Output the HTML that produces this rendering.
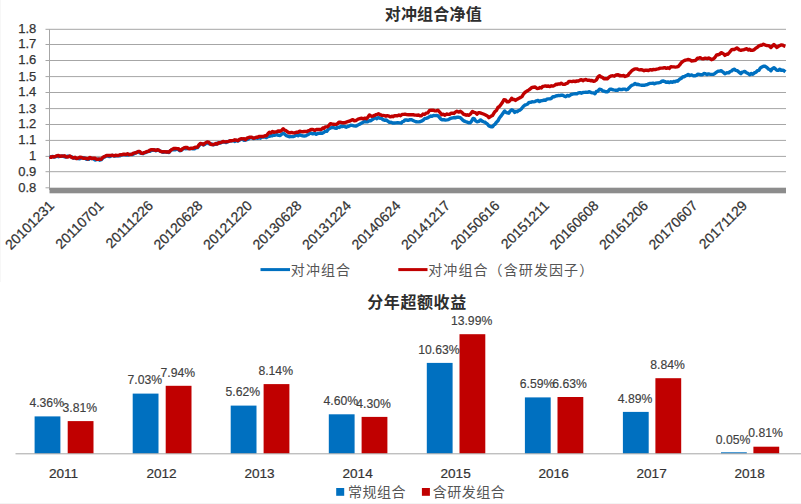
<!DOCTYPE html>
<html lang="zh"><head><meta charset="utf-8"><title>对冲组合净值</title>
<style>
html,body{margin:0;padding:0;background:#fff;}
body{width:801px;height:504px;overflow:hidden;}
svg{display:block;font-family:"Liberation Sans","Noto Sans CJK SC",sans-serif;}
.num{font-size:13px;fill:#333;stroke:#333;stroke-width:0.25px;}
.xl{font-size:14px;fill:#333;stroke:#333;stroke-width:0.25px;}
.bl{font-size:12.2px;fill:#404040;stroke:#404040;stroke-width:0.15px;}
.cat{font-size:13.6px;fill:#333;stroke:#333;stroke-width:0.2px;}
.cjk{font-family:"Liberation Sans","Noto Sans CJK SC",sans-serif;font-size:14px;letter-spacing:1.1px;fill:#555;}
.cjk2{font-family:"Liberation Sans","Noto Sans CJK SC",sans-serif;font-size:14px;letter-spacing:0.5px;fill:#555;}
.ttl{font-family:"Liberation Sans","Noto Sans CJK SC",sans-serif;font-size:16px;font-weight:bold;fill:#2e2e2e;}
</style></head><body>
<svg width="801" height="504" viewBox="0 0 801 504">
<rect width="801" height="504" fill="#fff"/>
<rect x="0" y="0" width="1" height="282" fill="#f7f7f7"/>
<rect x="0" y="503" width="801" height="1" fill="#f4f4f4"/>
<text class="ttl" x="433.3" y="19.6" text-anchor="middle" style="letter-spacing:0.2px">对冲组合净值</text>
<g stroke="#a6a6a6" stroke-width="1" fill="none">
<line x1="45.5" y1="29.30" x2="786.0" y2="29.30"/>
<line x1="45.5" y1="44.50" x2="786.0" y2="44.50"/>
<line x1="45.5" y1="60.50" x2="786.0" y2="60.50"/>
<line x1="45.5" y1="76.60" x2="786.0" y2="76.60"/>
<line x1="45.5" y1="92.50" x2="786.0" y2="92.50"/>
<line x1="45.5" y1="108.60" x2="786.0" y2="108.60"/>
<line x1="45.5" y1="124.50" x2="786.0" y2="124.50"/>
<line x1="45.5" y1="140.40" x2="786.0" y2="140.40"/>
<line x1="45.5" y1="156.40" x2="786.0" y2="156.40"/>
<line x1="45.5" y1="171.70" x2="786.0" y2="171.70"/>
<line x1="45.5" y1="187.8" x2="49.5" y2="187.8"/>
<line x1="49.5" y1="29.30" x2="49.5" y2="190"/>
</g>
<rect x="49.5" y="187.7" width="736.5" height="5.6" fill="#8c8c8c"/>
<g class="num" text-anchor="end">
<text x="36.3" y="33.20">1.8</text>
<text x="36.3" y="48.40">1.7</text>
<text x="36.3" y="64.40">1.6</text>
<text x="36.3" y="80.50">1.5</text>
<text x="36.3" y="96.40">1.4</text>
<text x="36.3" y="112.50">1.3</text>
<text x="36.3" y="128.40">1.2</text>
<text x="36.3" y="144.30">1.1</text>
<text x="36.3" y="160.30">1</text>
<text x="36.3" y="175.60">0.9</text>
<text x="36.3" y="191.60">0.8</text>
</g>
<polyline fill="none" stroke="#0070c0" stroke-width="3.4" stroke-linejoin="round" stroke-linecap="butt" points="49.5,157.1 51.0,156.8 52.5,156.4 54.0,157.1 55.5,156.8 57.0,156.1 58.5,156.7 60.0,156.3 61.5,156.4 63.0,156.0 64.5,156.9 66.0,157.1 67.8,156.1 69.7,156.4 71.0,156.9 72.2,157.0 73.5,158.2 75.0,157.7 76.5,158.4 78.0,158.6 79.8,158.7 81.7,157.9 83.2,157.7 84.7,158.2 86.2,159.2 87.7,159.4 88.8,159.3 90.0,157.9 91.7,158.5 93.3,158.6 95.0,160.0 96.7,159.7 98.2,159.0 99.7,160.2 101.2,159.7 102.5,158.4 103.7,157.2 105.0,156.8 106.5,156.0 108.0,156.1 109.5,156.6 111.0,155.9 112.5,155.4 114.0,156.0 115.4,156.1 116.9,155.7 118.4,155.9 119.9,155.8 121.4,154.8 123.0,154.6 124.5,154.7 126.0,154.9 127.5,155.1 129.0,154.6 130.5,154.4 132.0,154.6 133.5,154.1 135.0,153.2 136.5,152.3 138.0,151.9 139.7,152.9 141.3,153.4 143.0,153.7 144.3,152.7 145.7,152.6 147.0,151.9 148.5,151.3 149.9,151.3 151.4,150.1 152.9,150.4 154.4,149.8 155.9,150.8 157.4,150.1 158.7,150.1 160.0,151.3 161.5,151.4 163.0,152.2 164.5,152.1 166.0,151.7 167.5,152.4 169.0,152.5 170.5,150.5 172.0,149.8 173.7,149.8 175.5,149.7 177.2,149.1 178.5,149.7 179.7,150.7 181.0,150.6 182.5,149.2 184.0,148.3 185.5,148.7 187.0,148.6 188.5,148.6 190.0,148.5 191.5,148.6 193.0,148.9 194.5,148.8 196.0,147.8 197.5,147.6 198.9,145.9 200.4,143.8 201.9,143.7 203.4,145.0 204.7,144.4 205.9,143.4 207.2,142.3 208.7,143.7 210.2,144.1 211.7,143.9 213.2,144.9 214.6,144.4 215.9,144.4 217.3,143.1 218.6,143.4 220.0,143.1 221.5,142.4 223.0,142.1 224.4,141.8 225.9,142.6 227.4,142.0 228.9,141.1 230.4,141.0 231.9,140.9 233.4,140.8 234.9,141.5 236.4,140.4 237.9,141.1 239.8,140.0 241.6,139.1 242.9,139.5 244.1,140.3 245.4,140.1 246.9,139.7 248.4,139.0 249.9,137.6 251.8,137.8 253.6,138.6 254.9,138.2 256.2,137.8 257.6,138.4 258.9,137.5 260.4,138.2 261.9,137.0 263.4,137.0 264.9,137.1 266.4,137.5 267.9,136.5 269.4,136.3 270.9,135.7 272.3,135.7 273.6,135.0 275.0,135.2 276.7,134.6 278.5,135.3 280.2,135.5 281.7,134.2 283.2,133.2 284.7,134.2 286.2,135.6 287.7,136.1 289.2,136.7 290.5,136.6 291.9,136.6 293.2,136.6 294.5,136.2 296.2,135.0 298.0,135.8 299.7,134.7 301.2,135.4 302.7,135.9 304.2,136.0 305.7,135.9 307.0,135.1 308.4,134.4 309.7,133.3 311.0,133.2 312.7,133.8 314.5,133.3 316.2,134.4 317.7,133.5 319.2,133.4 320.7,133.0 322.2,133.2 323.7,132.4 325.2,131.3 326.7,131.4 328.2,129.4 329.7,128.4 331.2,127.7 332.9,127.3 334.7,128.0 336.4,128.4 337.9,127.0 339.4,127.5 340.9,126.2 342.2,126.6 343.5,126.2 344.9,126.6 346.2,127.2 347.7,126.5 349.2,126.1 350.7,125.3 352.2,125.4 353.9,125.9 355.7,126.1 357.4,125.4 359.1,124.4 360.9,123.4 362.6,122.5 363.9,121.7 365.2,121.5 366.6,121.7 367.9,121.7 369.4,120.6 370.9,120.7 372.4,119.5 373.9,118.5 375.4,117.8 376.9,118.7 378.4,117.5 379.9,118.2 381.4,118.3 382.9,119.6 384.4,120.2 386.1,120.0 387.8,121.2 389.4,122.4 391.1,122.2 392.7,123.0 394.4,123.0 396.0,122.9 397.7,122.6 399.5,122.9 401.2,123.2 402.5,121.6 403.7,121.4 405.0,119.9 406.5,120.0 408.0,120.4 409.5,119.8 411.0,119.7 412.5,120.2 414.2,121.0 415.9,121.7 417.5,121.9 419.2,121.7 420.6,121.5 421.9,120.9 423.3,120.1 424.6,118.7 426.0,118.4 427.5,117.9 429.0,117.1 430.5,116.0 432.0,116.2 433.5,115.4 434.9,115.6 436.4,115.5 437.9,115.7 439.4,117.4 440.9,119.2 442.4,119.9 443.9,119.6 445.4,120.1 446.9,119.9 448.4,119.6 449.9,118.7 451.4,118.2 452.9,117.8 454.4,117.5 455.9,117.7 457.4,117.2 458.9,117.3 460.4,117.7 461.7,118.9 463.0,120.3 464.4,121.2 465.7,121.7 467.2,122.1 468.6,122.7 470.1,122.9 471.6,121.1 473.1,118.4 474.4,118.9 475.6,120.8 476.9,121.7 478.8,121.4 480.6,119.9 482.1,121.1 483.6,121.8 485.1,122.2 486.4,123.4 487.6,124.2 488.9,125.9 490.8,126.7 492.6,126.7 493.9,124.9 495.1,124.2 496.4,122.2 497.9,120.9 499.4,118.0 500.9,116.2 502.8,113.5 504.6,111.0 506.0,112.4 507.3,112.8 508.7,113.2 510.2,111.0 511.7,109.7 513.2,110.5 514.7,112.4 516.0,111.3 517.2,111.8 518.5,110.6 520.0,110.1 521.5,108.7 523.4,106.3 525.2,104.9 526.5,104.6 527.7,104.0 529.0,102.4 530.5,102.4 532.0,101.8 533.5,101.9 535.0,101.6 536.5,100.8 538.0,100.4 539.5,101.6 541.0,100.7 542.5,100.6 544.0,100.0 545.4,100.3 546.9,99.2 548.4,98.9 549.9,98.9 551.4,98.3 552.9,96.8 554.4,96.7 555.8,96.0 557.1,95.8 558.5,95.4 559.8,95.6 561.2,95.2 562.7,95.3 564.2,96.1 565.7,96.7 567.4,95.5 569.2,96.0 570.9,94.7 572.4,94.1 573.9,93.9 575.4,93.7 576.9,93.9 578.4,92.9 579.9,92.6 581.4,93.2 582.9,92.5 584.4,92.4 585.9,92.2 587.6,92.4 589.4,91.7 591.1,92.6 592.4,92.9 593.6,92.9 594.9,93.7 596.4,91.5 597.9,91.1 599.4,89.2 601.2,89.7 603.1,91.1 604.6,91.3 606.1,91.8 607.6,91.7 608.8,90.5 609.9,89.2 611.6,89.3 613.4,89.9 615.1,90.2 616.4,90.1 617.8,90.3 619.1,89.1 620.4,89.5 621.8,89.6 623.2,89.1 624.7,89.1 626.1,89.8 627.5,89.4 629.4,87.6 631.2,85.7 632.5,85.0 633.7,84.6 635.0,83.4 636.5,84.5 638.0,84.3 639.5,84.9 641.2,85.2 643.0,85.1 644.7,85.2 646.0,84.8 647.4,84.6 648.7,83.8 650.0,83.4 651.5,83.4 653.0,83.2 654.5,83.8 656.0,83.1 657.5,82.9 659.0,82.7 660.4,82.3 661.9,81.2 663.4,81.0 664.9,81.6 666.4,82.4 667.9,81.9 669.4,82.6 670.9,81.7 672.4,82.4 673.7,81.5 675.0,81.7 676.4,80.9 677.7,81.2 679.5,79.3 681.4,78.2 682.9,76.7 684.4,76.7 685.9,75.6 687.0,75.4 688.2,74.4 689.9,75.5 691.7,74.9 693.4,75.9 694.9,75.8 696.4,75.4 697.9,74.2 699.4,74.4 700.9,74.8 702.4,74.8 703.9,73.5 705.4,73.7 706.9,74.6 708.4,73.9 709.9,74.2 711.4,74.4 713.1,74.4 714.9,73.4 716.6,72.2 718.1,71.2 719.6,71.1 721.1,70.7 722.4,71.7 723.6,72.5 724.9,73.7 726.8,72.8 728.6,72.9 730.1,71.5 731.6,71.0 733.1,69.6 734.5,69.2 735.8,70.4 737.2,70.7 739.0,72.1 740.9,73.7 742.2,72.2 743.4,71.9 744.7,71.4 746.4,72.7 748.2,73.6 749.9,74.7 751.4,73.4 752.9,74.2 754.4,72.9 755.9,72.2 757.4,70.7 758.9,70.3 760.4,67.9 761.9,67.0 763.4,66.2 765.2,66.3 767.1,67.7 768.4,69.1 769.6,69.4 770.9,70.7 772.4,68.6 773.9,67.7 775.4,68.9 776.9,70.4 778.4,70.4 779.9,69.2 781.3,70.4 782.6,70.2 784.0,70.7 785.4,71.9"/>
<polyline fill="none" stroke="#c00000" stroke-width="3.4" stroke-linejoin="round" stroke-linecap="butt" points="49.5,156.7 51.0,157.3 52.5,156.7 54.0,156.8 55.5,156.4 57.0,155.7 58.5,155.5 60.0,156.4 61.5,156.0 63.0,156.1 64.5,155.8 66.0,156.7 67.8,157.0 69.7,156.0 71.0,156.8 72.2,157.7 73.5,157.8 75.0,157.3 76.5,158.6 78.0,158.2 79.8,157.2 81.7,157.5 83.2,158.4 84.7,158.2 86.2,158.4 87.7,159.0 88.8,158.3 90.0,157.5 91.7,158.6 93.3,158.1 95.0,158.3 96.7,159.3 98.2,159.3 99.7,158.9 101.2,159.3 102.5,157.7 103.7,156.9 105.0,156.4 106.5,155.5 108.0,155.5 109.5,155.4 111.0,155.5 112.5,155.2 114.0,155.9 115.4,155.2 116.9,155.5 118.4,155.5 119.9,154.8 121.4,154.9 123.0,154.2 124.5,154.3 126.0,154.5 127.5,153.7 129.0,154.7 130.5,154.4 132.0,154.2 133.5,153.1 135.0,152.8 136.5,152.8 138.0,151.5 139.7,151.5 141.3,153.2 143.0,153.3 144.3,152.6 145.7,152.1 147.0,151.5 148.5,151.4 149.9,150.1 151.4,149.7 152.9,149.7 154.4,150.0 155.9,150.4 157.4,149.7 158.7,150.1 160.0,150.9 161.5,151.7 163.0,151.7 164.5,151.7 166.0,152.0 167.5,151.8 169.0,152.1 170.5,150.5 172.0,149.4 173.7,148.5 175.5,148.4 177.2,148.7 178.5,148.6 179.7,150.1 181.0,150.2 182.5,148.7 184.0,147.9 185.5,147.5 187.0,147.4 188.5,148.6 190.0,148.7 191.5,148.2 193.0,148.2 194.5,147.4 196.0,147.1 197.5,147.2 198.9,145.0 200.4,143.4 201.9,143.9 203.4,144.6 204.7,143.2 205.9,142.7 207.2,141.9 208.7,142.2 210.2,143.9 211.7,144.6 213.2,144.5 214.6,144.2 215.9,143.4 217.3,144.1 218.6,142.8 220.0,142.7 221.5,142.3 223.0,141.5 224.4,141.9 225.9,141.8 227.4,141.6 228.9,141.3 230.4,140.6 231.9,140.7 233.4,140.4 234.9,139.8 236.4,140.2 237.9,140.7 239.8,139.1 241.6,138.7 242.9,138.9 244.1,138.7 245.4,139.7 246.9,138.2 248.4,137.7 249.9,137.2 251.8,137.3 253.6,138.2 254.9,137.9 256.2,137.3 257.6,137.2 258.9,136.4 260.4,136.5 261.9,136.4 263.4,136.5 264.9,135.7 266.4,135.7 267.9,133.7 269.4,132.2 270.9,132.9 272.4,131.5 273.9,132.3 275.4,131.9 276.8,131.9 278.1,130.9 279.5,131.4 281.4,130.6 283.2,128.7 284.6,130.1 285.9,130.6 287.3,131.6 288.6,132.5 290.0,132.9 291.5,132.4 293.0,132.9 294.5,132.9 296.2,132.3 298.0,132.2 299.7,131.1 301.2,131.6 302.7,131.7 304.2,131.5 305.7,131.4 307.0,131.5 308.4,130.7 309.7,130.3 311.0,129.5 312.9,129.5 314.7,130.4 316.4,129.5 318.0,129.4 319.7,129.5 321.4,129.5 322.7,128.0 323.9,128.3 325.2,126.9 327.4,126.9 328.9,125.4 330.4,123.7 331.9,124.0 333.4,124.2 334.9,124.4 336.4,124.3 337.7,123.6 338.9,122.2 340.2,122.2 341.9,122.7 343.7,122.8 345.4,122.5 346.9,121.9 348.4,121.4 349.9,121.0 351.4,120.2 352.9,119.6 354.4,120.8 355.9,120.5 357.4,119.6 358.9,118.8 360.4,118.5 361.9,118.3 363.4,118.8 364.9,118.1 366.4,118.7 367.9,117.2 369.4,115.0 371.2,116.2 373.1,116.0 374.4,115.4 375.8,114.7 377.1,114.3 378.4,113.8 379.9,114.6 381.4,115.2 382.9,115.4 384.4,115.7 385.9,116.2 387.4,115.7 388.9,116.1 390.4,116.9 391.8,116.2 393.2,116.7 394.6,115.7 396.0,115.7 397.5,115.8 399.0,115.0 400.5,115.7 402.0,114.5 403.5,114.4 405.0,114.2 406.7,114.6 408.4,114.7 410.0,114.8 411.7,114.7 413.1,114.6 414.5,115.1 415.9,115.1 417.2,115.3 418.6,115.0 420.0,115.7 421.5,115.7 423.0,114.0 424.5,114.5 426.0,113.2 427.7,112.9 429.5,110.5 431.2,110.2 432.9,110.1 434.5,110.7 436.2,110.9 437.9,110.2 439.2,111.6 440.4,112.9 441.7,114.7 443.3,114.2 445.0,115.2 446.6,114.0 448.3,114.4 449.9,114.2 451.2,113.2 452.5,113.2 453.9,113.4 455.2,112.2 456.9,111.3 458.7,112.1 460.4,111.3 461.9,112.4 463.4,114.1 464.9,114.7 466.2,115.2 467.4,114.8 468.7,115.4 470.5,114.0 472.4,111.4 473.9,112.3 475.4,112.6 476.9,114.2 478.4,112.7 479.9,112.7 481.6,113.4 483.4,114.0 485.1,114.7 486.4,115.4 487.6,116.2 488.9,117.7 490.8,116.3 492.6,115.4 493.8,113.3 494.9,111.7 496.4,110.5 497.9,107.5 499.4,106.5 500.9,104.6 502.4,102.5 503.9,99.7 505.5,99.9 507.1,101.8 508.7,101.9 510.2,100.4 511.7,98.2 513.0,99.5 514.2,99.4 515.5,100.4 517.2,99.2 519.0,98.2 520.7,97.4 522.0,96.6 523.2,94.5 524.5,92.9 526.0,91.7 527.5,90.8 529.0,89.9 530.5,88.7 532.0,87.4 533.5,87.2 535.2,87.0 537.0,88.5 538.7,88.4 540.0,87.5 541.4,88.0 542.7,86.4 544.0,86.2 545.5,85.9 547.0,86.4 548.4,86.0 549.9,86.6 551.4,85.8 552.9,86.1 554.4,85.5 555.9,84.3 557.2,84.5 558.5,83.9 559.9,84.1 561.2,83.2 563.0,84.4 564.9,84.3 566.2,83.6 567.5,83.2 568.9,81.4 570.2,81.4 571.9,81.6 573.5,81.1 575.2,81.5 576.9,81.0 578.4,81.0 579.9,80.2 581.4,79.6 582.9,80.7 584.4,79.8 585.9,79.5 587.4,80.2 588.9,80.2 590.4,80.7 591.9,80.5 593.4,81.3 594.9,81.0 596.4,79.9 597.9,77.1 599.4,75.7 600.9,76.9 602.4,77.4 603.9,78.7 605.8,78.8 607.6,78.7 608.8,77.4 609.9,76.5 611.4,75.9 612.9,75.8 614.4,76.2 616.2,75.0 618.1,74.7 619.4,75.7 620.7,75.5 622.0,75.9 623.6,75.5 625.1,76.5 626.7,75.9 628.0,75.4 629.2,73.4 630.5,72.2 632.4,70.2 634.2,69.2 635.5,68.9 636.9,68.9 638.2,69.5 639.5,69.9 641.0,69.6 642.5,70.0 644.0,70.7 645.5,70.1 647.0,70.3 648.5,70.5 650.0,69.6 651.7,70.0 653.5,69.5 655.2,69.6 656.7,69.1 658.2,68.9 659.7,68.3 661.2,68.1 662.9,68.0 664.7,67.6 666.4,68.4 667.9,67.7 669.4,68.4 670.9,66.7 672.4,66.9 673.9,66.9 675.4,67.1 676.9,66.9 678.4,66.3 679.9,64.7 681.4,62.6 682.9,61.4 684.2,60.6 685.5,60.1 686.9,59.8 688.2,59.5 689.9,59.8 691.7,61.0 693.4,60.7 694.7,60.6 696.0,60.1 697.4,58.2 698.7,58.3 700.2,57.6 701.7,58.6 703.1,58.9 704.6,58.3 706.1,58.3 707.5,58.6 708.8,57.9 710.2,58.7 711.5,59.7 712.9,59.2 714.8,57.6 716.6,55.0 718.1,54.8 719.6,54.2 721.1,52.7 722.4,53.2 723.6,53.9 724.9,55.4 726.4,54.3 727.9,54.2 729.8,52.0 731.6,49.7 732.9,49.5 734.2,49.5 735.6,48.7 736.9,47.9 738.2,49.0 739.6,50.0 740.9,50.4 742.4,49.9 743.9,49.7 745.4,49.2 746.8,48.7 748.2,49.9 749.5,49.2 750.9,50.4 752.3,50.2 753.7,50.1 755.5,48.4 757.4,47.2 758.9,45.9 760.4,45.3 761.9,45.2 763.4,44.2 765.2,45.1 767.1,45.5 768.4,45.6 769.6,46.2 770.9,47.5 772.4,46.0 773.9,44.5 775.4,46.1 776.9,47.5 778.4,46.3 779.9,45.5 781.4,44.9 782.9,45.2 784.1,46.0 785.4,46.4"/>
<g class="xl" text-anchor="end">
<text transform="translate(55.0,206.5) rotate(-45)" x="0" y="0">20101231</text>
<text transform="translate(104.5,206.5) rotate(-45)" x="0" y="0">20110701</text>
<text transform="translate(154.0,206.5) rotate(-45)" x="0" y="0">20111226</text>
<text transform="translate(203.5,206.5) rotate(-45)" x="0" y="0">20120628</text>
<text transform="translate(253.0,206.5) rotate(-45)" x="0" y="0">20121220</text>
<text transform="translate(302.5,206.5) rotate(-45)" x="0" y="0">20130628</text>
<text transform="translate(352.0,206.5) rotate(-45)" x="0" y="0">20131224</text>
<text transform="translate(401.5,206.5) rotate(-45)" x="0" y="0">20140624</text>
<text transform="translate(451.0,206.5) rotate(-45)" x="0" y="0">20141217</text>
<text transform="translate(500.5,206.5) rotate(-45)" x="0" y="0">20150616</text>
<text transform="translate(550.0,206.5) rotate(-45)" x="0" y="0">20151211</text>
<text transform="translate(599.5,206.5) rotate(-45)" x="0" y="0">20160608</text>
<text transform="translate(649.0,206.5) rotate(-45)" x="0" y="0">20161206</text>
<text transform="translate(698.5,206.5) rotate(-45)" x="0" y="0">20170607</text>
<text transform="translate(748.0,206.5) rotate(-45)" x="0" y="0">20171129</text>
</g>
<line x1="260.5" y1="269.6" x2="290" y2="269.6" stroke="#0070c0" stroke-width="3"/>
<text class="cjk" x="290.8" y="274.6">对冲组合</text>
<line x1="398.3" y1="269.6" x2="427.5" y2="269.6" stroke="#c00000" stroke-width="3"/>
<text class="cjk" x="428.2" y="274.6">对冲组合（含研发因子）</text>
<text class="ttl" x="417" y="308" text-anchor="middle" style="letter-spacing:0.6px">分年超额收益</text>
<rect x="34.6" y="416.4" width="25.8" height="37.2" fill="#0070c0"/>
<rect x="67.7" y="421.1" width="25.8" height="32.5" fill="#c00000"/>
<rect x="132.7" y="393.6" width="25.8" height="60.0" fill="#0070c0"/>
<rect x="165.7" y="385.8" width="25.8" height="67.8" fill="#c00000"/>
<rect x="230.7" y="405.6" width="25.8" height="48.0" fill="#0070c0"/>
<rect x="263.6" y="384.1" width="25.8" height="69.5" fill="#c00000"/>
<rect x="328.8" y="414.3" width="25.8" height="39.3" fill="#0070c0"/>
<rect x="361.6" y="416.9" width="25.8" height="36.7" fill="#c00000"/>
<rect x="426.8" y="362.9" width="25.8" height="90.7" fill="#0070c0"/>
<rect x="459.5" y="334.2" width="25.8" height="119.4" fill="#c00000"/>
<rect x="524.9" y="397.4" width="25.8" height="56.2" fill="#0070c0"/>
<rect x="557.5" y="397.0" width="25.8" height="56.6" fill="#c00000"/>
<rect x="622.9" y="411.9" width="25.8" height="41.7" fill="#0070c0"/>
<rect x="655.4" y="378.2" width="25.8" height="75.4" fill="#c00000"/>
<rect x="721.0" y="452.3" width="25.8" height="1.3" fill="#0070c0"/>
<rect x="753.4" y="446.7" width="25.8" height="6.9" fill="#c00000"/>
<line x1="15.5" y1="453.8" x2="801" y2="453.8" stroke="#a6a6a6" stroke-width="1"/>
<g class="bl" text-anchor="middle">
<text transform="translate(46.7,407.1) scale(1,1)">4.36%</text>
<text transform="translate(79.8,411.8) scale(1,1)">3.81%</text>
<text transform="translate(144.8,384.3) scale(1,1)">7.03%</text>
<text transform="translate(177.8,376.5) scale(1,1)">7.94%</text>
<text transform="translate(242.8,396.3) scale(1,1)">5.62%</text>
<text transform="translate(275.7,374.8) scale(1,1)">8.14%</text>
<text transform="translate(340.8,405.0) scale(1,1)">4.60%</text>
<text transform="translate(373.6,407.6) scale(1,1)">4.30%</text>
<text transform="translate(438.9,353.6) scale(1,1)">10.63%</text>
<text transform="translate(471.6,324.9) scale(1,1)">13.99%</text>
<text transform="translate(537.0,388.1) scale(1,1)">6.59%</text>
<text transform="translate(569.6,387.7) scale(1,1)">6.63%</text>
<text transform="translate(635.0,402.6) scale(1,1)">4.89%</text>
<text transform="translate(667.5,368.9) scale(1,1)">8.84%</text>
<text transform="translate(733.1,443.9) scale(1,1)">0.05%</text>
<text transform="translate(765.5,437.4) scale(1,1)">0.81%</text>
</g>
<g class="cat" text-anchor="middle">
<text x="63.5" y="478">2011</text>
<text x="161.5" y="478">2012</text>
<text x="259.5" y="478">2013</text>
<text x="357.6" y="478">2014</text>
<text x="455.6" y="478">2015</text>
<text x="553.6" y="478">2016</text>
<text x="651.6" y="478">2017</text>
<text x="749.6" y="478">2018</text>
</g>
<rect x="336.2" y="488" width="8" height="7.8" fill="#0070c0"/>
<text class="cjk2" x="347.9" y="496.8">常规组合</text>
<rect x="421.9" y="488" width="8" height="7.8" fill="#c00000"/>
<text class="cjk2" x="432.8" y="496.8">含研发组合</text>
</svg></body></html>
